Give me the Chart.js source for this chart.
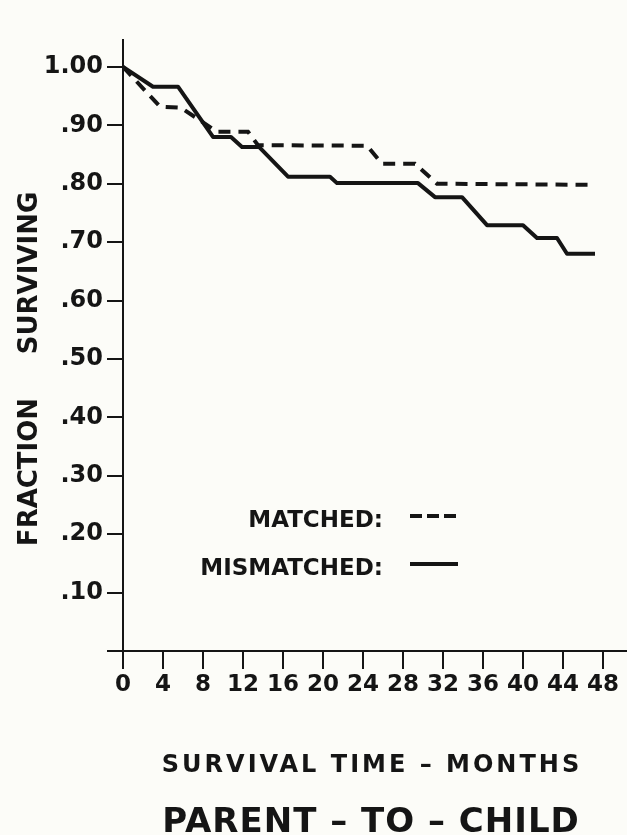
<!DOCTYPE html>
<html>
<head>
<meta charset="utf-8">
<title>Parent - to - Child survival</title>
<script src="https://cdn.jsdelivr.net/npm/chart.js@4.4.1/dist/chart.umd.min.js"></script>
<style>
    html, body { margin: 0 ; padding: 0 ; background: #fcfcf8 ; }
    #survivalChart { display: block ; }
</style>
</head>
<body>
<canvas id="survivalChart" width="627" height="835"></canvas>
<script>
// ---------------- Data -------------------------------------------------------
const monthTicks    = [ 0, 4, 8, 12, 16, 20, 24, 28, 32, 36, 40, 44, 48 ] ;
const fractionTicks = [ 0, 0.1, 0.2, 0.3, 0.4, 0.5, 0.6, 0.7, 0.8, 0.9, 1.0 ] ;

const matchedMonths   = [ 0, 3.7, 5.8, 9.4, 12.5, 13.5, 24.4, 25.9, 29.2, 31.4, 47.0 ] ;
const matchedFraction = [ 1.00, 0.932, 0.930, 0.889, 0.889, 0.866, 0.865, 0.834, 0.834, 0.800, 0.798 ] ;

const mismatchedMonths   = [ 0, 3.0, 5.5, 9.0, 10.8, 11.9, 13.6, 16.5, 20.7, 21.4, 29.5,
                             31.2, 33.9, 36.4, 40.0, 41.4, 43.4, 44.4, 47.2 ] ;
const mismatchedFraction = [ 1.00, 0.966, 0.966, 0.880, 0.880, 0.863, 0.863, 0.812, 0.812, 0.801, 0.801,
                             0.777, 0.777, 0.729, 0.729, 0.707, 0.707, 0.680, 0.680 ] ;

const legendLabels = [ "MATCHED:", "MISMATCHED:" ] ;

// ---------------- Constants ----------------------------------------------
const CHART_ID = "survivalChart" ;
const INK      = "#151515" ;
const FONT     = "DejaVu Sans" ;

// ---------------- Local functions ----------------------------------------
function toPoints( xs, ys ) {
    var pts = [] ;
    for( var i=0; i<xs.length; i++ ) {
        pts.push( { x: xs[i], y: ys[i] } ) ;
    }
    return pts ;
}

function fractionLabel( value ) {
    if( value < 0.05 ) return "" ;
    var txt = value.toFixed( 2 ) ;
    return value < 1 ? txt.substring( 1 ) : txt ;
}

function getMatchedDataset() {
    return {
        label            : legendLabels[0],
        data             : toPoints( matchedMonths, matchedFraction ),
        showLine         : true,
        borderColor      : INK,
        backgroundColor  : INK,
        borderWidth      : 4,
        borderDash       : [ 12, 8 ],
        borderCapStyle   : 'butt',
        tension          : 0,
        pointRadius      : 0,
    } ;
}

function getMismatchedDataset() {
    return {
        label            : legendLabels[1],
        data             : toPoints( mismatchedMonths, mismatchedFraction ),
        showLine         : true,
        borderColor      : INK,
        backgroundColor  : INK,
        borderWidth      : 4,
        borderJoinStyle  : 'round',
        tension          : 0,
        pointRadius      : 0,
    } ;
}

// Texts that sit outside the scales: axis titles, legend, caption
const paperTexts = {
    id : 'paperTexts',
    afterDraw : function( chart ) {
        var ctx = chart.ctx ;
        ctx.save() ;
        ctx.fillStyle = INK ;
        ctx.strokeStyle = INK ;

        // y title, reads bottom to top
        ctx.font = "bold 26px '" + FONT + "'" ;
        ctx.textAlign = "center" ;
        ctx.textBaseline = "alphabetic" ;
        ctx.save() ;
        ctx.translate( 37, 472 ) ;
        ctx.rotate( -Math.PI / 2 ) ;
        ctx.fillText( "FRACTION", 0, 0 ) ;
        ctx.restore() ;
        ctx.save() ;
        ctx.translate( 37, 273 ) ;
        ctx.rotate( -Math.PI / 2 ) ;
        ctx.fillText( "SURVIVING", 0, 0 ) ;
        ctx.restore() ;

        // legend inside the plot
        ctx.font = "bold 23px '" + FONT + "'" ;
        ctx.textAlign = "right" ;
        ctx.fillText( legendLabels[0], 383, 527 ) ;
        ctx.fillText( legendLabels[1], 383, 575 ) ;
        ctx.lineWidth = 4 ;
        ctx.setLineDash( [ 12, 5 ] ) ;
        ctx.beginPath() ; ctx.moveTo( 410, 516 ) ; ctx.lineTo( 458, 516 ) ; ctx.stroke() ;
        ctx.setLineDash( [] ) ;
        ctx.beginPath() ; ctx.moveTo( 410, 564 ) ; ctx.lineTo( 458, 564 ) ; ctx.stroke() ;

        // x title and caption
        ctx.textAlign = "center" ;
        ctx.font = "bold 24px '" + FONT + "'" ;
        ctx.letterSpacing = "3px" ;
        ctx.fillText( "SURVIVAL TIME – MONTHS", 372, 772 ) ;
        ctx.letterSpacing = "1px" ;
        ctx.font = "bold 34px '" + FONT + "'" ;
        ctx.fillText( "PARENT – TO – CHILD", 371, 832 ) ;
        ctx.restore() ;
    }
} ;

// ------------------- Graph options ---------------------------------------
function getScaleOptions() {
    return {
        x : {
            type: 'linear',
            min: 0,
            max: 50.3,
            afterBuildTicks: function( scale ) {
                scale.ticks = monthTicks.map( function( v ) { return { value: v } ; } ) ;
            },
            afterFit: function( scale ) { scale.height = 184 ; },
            border: { display: true, color: INK, width: 2 },
            grid: {
                display: true,
                drawOnChartArea: false,
                drawTicks: true,
                tickLength: 18,
                color: INK,
                lineWidth: 2,
            },
            ticks: {
                autoSkip: false,
                maxRotation: 0,
                padding: 2,
                color: INK,
                font: { family: FONT, weight: 'bold', size: 23 },
                callback: function( value ) { return '' + value ; }
            }
        },
        y : {
            type: 'linear',
            min: 0,
            max: 1.046,
            afterBuildTicks: function( scale ) {
                scale.ticks = fractionTicks.map( function( v ) { return { value: v } ; } ) ;
            },
            afterFit: function( scale ) { scale.width = 123 ; },
            border: { display: true, color: INK, width: 2 },
            grid: {
                display: true,
                drawOnChartArea: false,
                drawTicks: true,
                tickLength: 16,
                color: INK,
                lineWidth: 2,
            },
            ticks: {
                padding: 4,
                color: INK,
                font: { family: FONT, weight: 'bold', size: 24 },
                callback: function( value ) { return fractionLabel( value ) ; }
            }
        }
    } ;
}

function getChartOptions() {
    return {
        responsive : false,
        animation : false,
        layout : { padding: { top: 40, right: 1, bottom: 0, left: 0 } },
        plugins : {
            legend: { display: false },
            tooltip: { enabled: false },
        },
        scales : getScaleOptions(),
    } ;
}

// ------------------- Draw ------------------------------------------------
var canvas = document.getElementById( CHART_ID ) ;
var chart = new Chart( canvas, {
    type: 'scatter',
    data: {
        datasets: [ getMatchedDataset(), getMismatchedDataset() ]
    },
    options: getChartOptions(),
    plugins: [ paperTexts ]
} ) ;
</script>
</body>
</html>
